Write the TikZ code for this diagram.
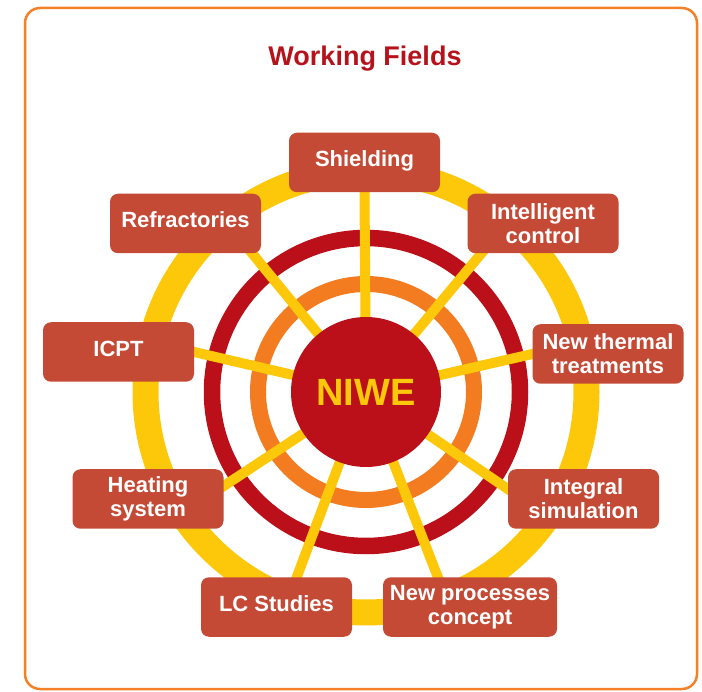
\documentclass[tikz,border=0pt]{standalone}
\usepackage{fontspec}
\setmainfont{Liberation Sans}
\usetikzlibrary{calc,backgrounds}
\definecolor{boxred}{RGB}{196,74,54}
\definecolor{darkred}{RGB}{187,16,26}
\definecolor{ringorange}{RGB}{243,124,33}
\definecolor{sunyellow}{RGB}{254,200,10}
\definecolor{titlered}{RGB}{181,18,27}
\definecolor{frameorange}{RGB}{244,128,40}
\begin{document}
\begin{tikzpicture}[x=1pt,y=-1pt,
  fieldbox/.style={fill=boxred, rounded corners=8pt, minimum width=151pt,
    minimum height=59.5pt, inner sep=0pt, text=white, align=center,
    font=\bfseries\fontsize{22}{24}\selectfont},
  oneline/.style={text height=15pt, text depth=6pt},
  spoke/.style={draw=sunyellow, line width=10pt, shorten >=-12pt},
  ringline/.style={line width=#1}]
\useasboundingbox (0,0) rectangle (702,692);

\draw[frameorange, line width=2.5pt, rounded corners=15pt] (25,8) rectangle (697,689);

\node[anchor=base, text=titlered, font=\bfseries\fontsize{27}{30}\selectfont]
  (title) at (365,65.7) {Working Fields};

\node[circle, fill=darkred, minimum size=150pt, inner sep=0pt, text=sunyellow,
  font=\bfseries\fontsize{38}{40}\selectfont] (niwe) at (366,392) {NIWE};

\node[fieldbox, oneline] (shield) at (364.5,162.5) {Shielding};
\node[fieldbox, oneline] (refr) at (185.5,223.5) {Refractories};
\node[fieldbox] (intel) at (543,223.5) {Intelligent\\control};
\node[fieldbox] (therm) at (608,354) {New thermal\\treatments};
\node[fieldbox, oneline] (icpt) at (118.5,352) {ICPT};
\node[fieldbox] (heat) at (148,499) {Heating\\system};
\node[fieldbox] (integ) at (583.5,499) {Integral\\simulation};
\node[fieldbox, oneline] (lc) at (276.5,607) {LC Studies};
\node[fieldbox, minimum width=174pt] (newproc) at (470,607) {New processes\\concept};

\coordinate (hShield) at (shield.south);
\coordinate (hRefr) at ($(refr.south east)+(-9,0)$);
\coordinate (hIntel) at ($(intel.south west)+(14,0)$);
\coordinate (hTherm) at (therm.west);
\coordinate (hIcpt) at (icpt.east);
\coordinate (hHeat) at ($(heat.north east)+(0,17)$);
\coordinate (hInteg) at ($(integ.north west)+(0,20)$);
\coordinate (hLC) at ($(lc.north west)+(96,0)$);
\coordinate (hNew) at ($(newproc.north west)+(55,0)$);

\begin{scope}[on background layer]
  \draw[sunyellow, ringline=26pt] (niwe.center) circle[radius=220.5pt];
  \draw[darkred, ringline=16.5pt] (niwe.center) circle[radius=154pt];
  \draw[ringorange, ringline=16pt] (niwe.center) circle[radius=108pt];
  \draw[spoke] (niwe.center) -- (hShield);
  \draw[spoke] (niwe.center) -- (hRefr);
  \draw[spoke] (niwe.center) -- (hIntel);
  \draw[spoke] (niwe.center) -- (hTherm);
  \draw[spoke] (niwe.center) -- (hIcpt);
  \draw[spoke] (niwe.center) -- (hHeat);
  \draw[spoke] (niwe.center) -- (hInteg);
  \draw[spoke] (niwe.center) -- (hLC);
  \draw[spoke] (niwe.center) -- (hNew);
\end{scope}
\end{tikzpicture}
\end{document}
